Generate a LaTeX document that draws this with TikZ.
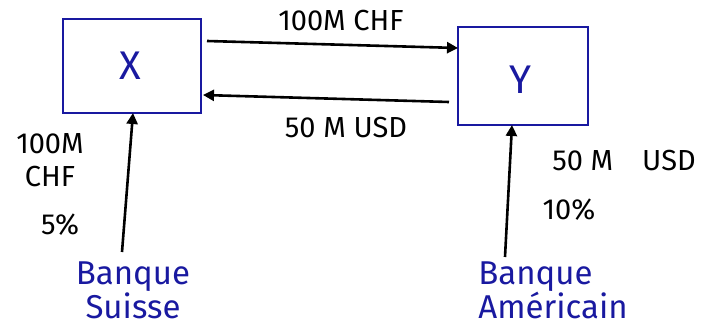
\documentclass[tikz,border=0pt]{standalone}
\usepackage{fontspec}
\setmainfont{Fira Sans}
\usetikzlibrary{arrows.meta}
\definecolor{penblue}{RGB}{25,25,160}
\tikzset{
  box/.style={draw=penblue, line width=2pt, inner sep=0pt},
  flow/.style={draw=black, line width=2.6pt, -{Triangle[length=11pt,width=11pt]}},
  lbl/.style={font=\fontsize{29}{33}\selectfont, text=black, inner sep=0pt},
  bank/.style={font=\fontsize{33}{34}\selectfont, text=penblue, inner sep=0pt},
  ent/.style={font=\fontsize{40}{42}\selectfont, text=penblue, inner sep=0pt}
}
\begin{document}
\begin{tikzpicture}[x=1pt,y=-1pt]
\useasboundingbox (0,0) rectangle (721,329);
\node[box, minimum width=138pt, minimum height=94pt] (X) at (132,66) {};
\node[box, minimum width=130pt, minimum height=98pt] (Y) at (523,76) {};
\node[ent] (xl) at (130,66) {X};
\node[ent] (yl) at (520,80) {Y};
\coordinate (t1) at (207,41);
\coordinate (t2) at (458,48);
\draw[flow] (t1) -- (t2);
\coordinate (b1) at (449,102);
\coordinate (b2) at (203,95);
\draw[flow] (b1) -- (b2);
\node[lbl] (top) at (341,21) {100M CHF};
\node[lbl] (bot) at (346,128) {50 M USD};
\node[bank, align=center] (BS) at (133,290) {Banque\\Suisse};
\node[bank, align=left] (BA) at (553,290) {Banque\\Américain};
\coordinate (ls) at (122,252);
\coordinate (le) at (133,113);
\draw[flow] (ls) -- (le);
\coordinate (rs) at (505,257);
\coordinate (re) at (512,125);
\draw[flow] (rs) -- (re);
\node[lbl, align=center] (l1) at (50,160) {100M\\CHF};
\node[lbl] (l2) at (60,225) {5\%};
\node[lbl] (r1) at (624,161) {50 M\quad USD};
\node[lbl] (r2) at (569,210) {10\%};
\end{tikzpicture}
\end{document}
